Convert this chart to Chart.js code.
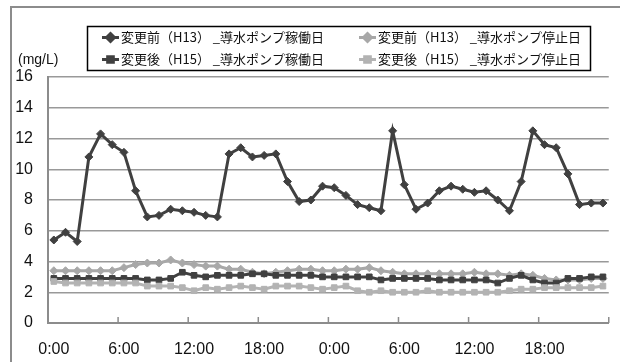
<!DOCTYPE html>
<html>
<head>
<meta charset="utf-8">
<script src="https://cdn.jsdelivr.net/npm/chart.js@4.4.1/dist/chart.umd.min.js"></script>
<style>
  html, body { margin: 0; padding: 0; background: #fff; }
  #wrap { position: relative; width: 620px; height: 362px; overflow: hidden; }
  #frame { position: absolute; left: 10px; top: 6px; width: 700px; height: 500px; border: 2px solid #8c8c8c; }
  canvas { position: absolute; left: 0; top: 0; }
</style>
</head>
<body>
<div id="wrap">
  <div id="frame"></div>
  <canvas id="c" width="620" height="362"></canvas>
</div>
<script>
// hourly sampling over two days
const categories = [
  '0:00','1:00','2:00','3:00','4:00','5:00','6:00','7:00','8:00','9:00','10:00','11:00',
  '12:00','13:00','14:00','15:00','16:00','17:00','18:00','19:00','20:00','21:00','22:00','23:00',
  '0:00','1:00','2:00','3:00','4:00','5:00','6:00','7:00','8:00','9:00','10:00','11:00',
  '12:00','13:00','14:00','15:00','16:00','17:00','18:00','19:00','20:00','21:00','22:00','23:00'
];

// labelled hours on the time axis
const tickLabels = ['0:00', '6:00', '12:00', '18:00'];

const seriesNames = [
  '変更前（H13） _導水ポンプ稼働日',
  '変更前（H13） _導水ポンプ停止日',
  '変更後（H15） _導水ポンプ稼働日',
  '変更後（H15） _導水ポンプ停止日'
];

// concentration (mg/L)
const beforeRunning = [
  5.4, 5.9, 5.3, 10.8, 12.3, 11.6, 11.1, 8.6, 6.9, 7.0, 7.4, 7.3,
  7.2, 7.0, 6.9, 11.0, 11.4, 10.8, 10.9, 11.0, 9.2, 7.9, 8.0, 8.9,
  8.8, 8.3, 7.7, 7.5, 7.3, 12.5, 9.0, 7.4, 7.8, 8.6, 8.9, 8.7,
  8.5, 8.6, 8.0, 7.3, 9.2, 12.5, 11.6, 11.4, 9.7, 7.7, 7.8, 7.8
];
const beforeStopped = [
  3.4, 3.4, 3.4, 3.4, 3.4, 3.4, 3.6, 3.8, 3.9, 3.9, 4.1, 3.9,
  3.8, 3.7, 3.7, 3.5, 3.5, 3.3, 3.2, 3.3, 3.4, 3.5, 3.5, 3.4,
  3.4, 3.5, 3.5, 3.6, 3.4, 3.3, 3.2, 3.2, 3.2, 3.2, 3.2, 3.2,
  3.3, 3.2, 3.2, 3.1, 3.2, 3.1, 2.9, 2.8, 2.8, 2.8, 2.9, 2.9
];
const afterRunning = [
  2.9, 2.9, 2.9, 2.9, 2.9, 2.9, 2.9, 2.9, 2.8, 2.8, 2.9, 3.3,
  3.1, 3.0, 3.1, 3.1, 3.1, 3.2, 3.2, 3.1, 3.1, 3.1, 3.1, 3.0,
  3.0, 3.0, 3.0, 3.0, 2.8, 2.9, 2.9, 2.9, 2.9, 2.8, 2.8, 2.8,
  2.8, 2.8, 2.6, 2.9, 3.1, 2.8, 2.6, 2.6, 2.9, 2.9, 3.0, 3.0
];
const afterStopped = [
  2.7, 2.6, 2.6, 2.6, 2.6, 2.6, 2.6, 2.6, 2.4, 2.4, 2.4, 2.3,
  2.1, 2.3, 2.2, 2.3, 2.4, 2.3, 2.2, 2.4, 2.4, 2.4, 2.3, 2.2,
  2.3, 2.4, 2.1, 2.0, 2.1, 2.0, 2.0, 2.0, 2.1, 2.0, 2.0, 2.0,
  2.0, 2.0, 2.0, 2.1, 2.2, 2.2, 2.3, 2.3, 2.3, 2.3, 2.3, 2.4
];

const DARK = '#404040';
const LIGHT_D = '#a8a8a8';
const LIGHT_S = '#b3b3b3';
const AXIS = '#8c8c8c';
const NUM_FONT = '"Liberation Sans", Arial, sans-serif';
const JP_FONT = '"Noto Sans CJK JP", sans-serif';

function series(label, data, color, style, order) {
  return {
    label, data, order,
    borderColor: color, backgroundColor: color,
    borderWidth: 3, tension: 0,
    pointStyle: style, pointRadius: 4, pointBorderWidth: 1,
    pointBorderColor: color, pointBackgroundColor: color
  };
}

// axis title, inward tick marks and the boxed two-column legend
const decor = {
  id: 'decor',
  afterDraw(chart) {
    const { ctx, chartArea: a } = chart;
    const x = chart.scales.x;
    ctx.save();

    const step = x.getPixelForValue(1) - x.getPixelForValue(0);
    ctx.strokeStyle = AXIS;
    ctx.lineWidth = 1.5;
    for (let i = 0; i <= categories.length; i += 6) {
      const px = x.getPixelForValue(0) + step * (i - 0.5);
      ctx.beginPath();
      ctx.moveTo(px, a.bottom);
      ctx.lineTo(px, a.bottom - 6);
      ctx.stroke();
    }

    ctx.fillStyle = '#111';
    ctx.font = '14px ' + NUM_FONT;
    ctx.textAlign = 'left';
    ctx.textBaseline = 'middle';
    ctx.fillText('(mg/L)', 18, 60);

    // legend box
    const box = { l: 87.5, t: 26.5, r: 590.5, b: 70.5 };
    ctx.strokeStyle = '#000';
    ctx.lineWidth = 1.5;
    ctx.strokeRect(box.l, box.t, box.r - box.l, box.b - box.t);

    const cols = [102, 359];
    const rows = [37.5, 59.5];
    chart.data.datasets.forEach((ds, i) => {
      const cx = cols[i % 2];
      const cy = rows[Math.floor(i / 2)];
      ctx.strokeStyle = ds.borderColor;
      ctx.lineWidth = 3;
      ctx.beginPath();
      ctx.moveTo(cx, cy);
      ctx.lineTo(cx + 17, cy);
      ctx.stroke();
      Chart.helpers.drawPoint(ctx, {
        pointStyle: ds.pointStyle, radius: 4, rotation: 0, borderWidth: 1
      }, cx + 8.5, cy);
      ctx.fillStyle = ds.borderColor;
      ctx.fill();
      ctx.fillStyle = '#111';
      ctx.font = '13px ' + JP_FONT;
      ctx.textAlign = 'left';
      ctx.textBaseline = 'middle';
      ctx.fillText(ds.label, cx + 19, cy);
    });
    ctx.restore();
  }
};

new Chart(document.getElementById('c'), {
  type: 'line',
  data: {
    labels: categories,
    datasets: [
      series(seriesNames[0], beforeRunning, DARK, 'rectRot', 3),
      series(seriesNames[1], beforeStopped, LIGHT_D, 'rectRot', 2),
      series(seriesNames[2], afterRunning, DARK, 'rect', 1),
      series(seriesNames[3], afterStopped, LIGHT_S, 'rect', 0)
    ]
  },
  options: {
    responsive: false,
    animation: false,
    devicePixelRatio: 1,
    layout: { padding: { top: 77, right: 7, left: 0, bottom: 0 } },
    plugins: { legend: { display: false }, tooltip: { enabled: false } },
    scales: {
      x: {
        type: 'category',
        offset: true,
        afterFit: s => { s.height = 39; },
        grid: { display: false, drawTicks: false },
        border: { display: true, color: AXIS, width: 2 },
        ticks: {
          autoSkip: false, maxRotation: 0, padding: 17,
          color: '#111', font: { family: NUM_FONT, size: 16 },
          callback: (v, i) => (i % 6 === 0 && tickLabels.includes(categories[i])) ? categories[i] : ''
        }
      },
      y: {
        min: 0, max: 16,
        afterFit: s => { s.width = 48; },
        grid: { color: '#999', lineWidth: 1.5, drawTicks: false },
        border: { display: true, color: AXIS, width: 2 },
        ticks: {
          stepSize: 2, padding: 15,
          color: '#111', font: { family: NUM_FONT, size: 16 }
        }
      }
    }
  },
  plugins: [decor]
});
</script>
</body>
</html>
